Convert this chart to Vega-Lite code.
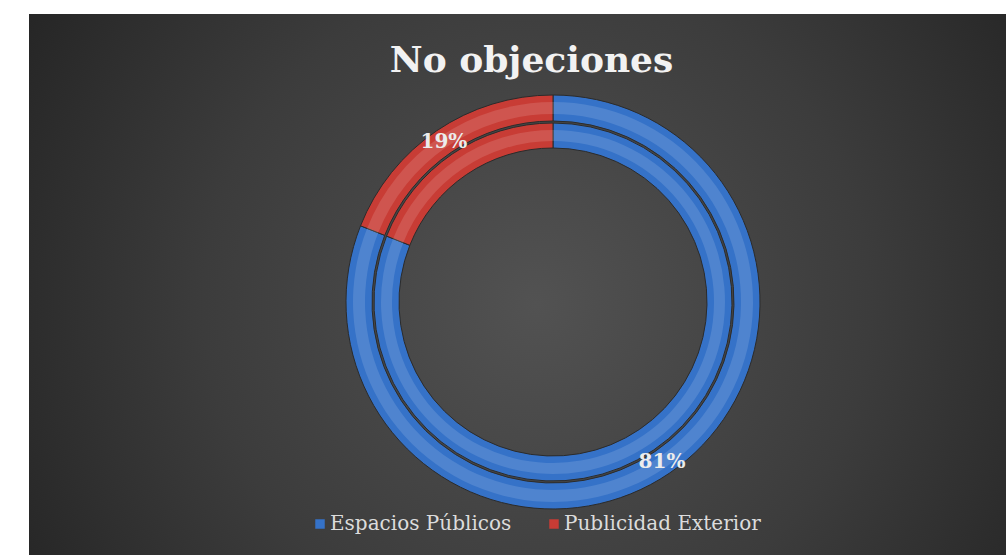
{
  "$schema": "https://vega.github.io/schema/vega-lite/v6.json",
  "autosize": {"type": "none"},
  "width": 977,
  "height": 541,
  "padding": {"left": 29, "top": 14, "right": 0, "bottom": 0},
  "background": "#ffffff",
  "view": {
    "stroke": null,
    "fill": {
      "gradient": "radial",
      "x1": 0.52, "y1": 0.52, "r1": 0,
      "x2": 0.52, "y2": 0.52, "r2": 0.62,
      "stops": [
        {"offset": 0, "color": "#525252"},
        {"offset": 0.55, "color": "#3c3c3c"},
        {"offset": 1, "color": "#242424"}
      ]
    }
  },
  "title": {
    "text": "No objeciones",
    "font": "DejaVu Serif",
    "fontSize": 36,
    "fontWeight": "bold",
    "color": "#f2f2f2",
    "anchor": "middle",
    "dx": 14,
    "dy": 70
  },
  "data": {
    "values": [
      {"categoria": "Espacios Públicos", "valor": 0.81},
      {"categoria": "Publicidad Exterior", "valor": 0.19}
    ]
  },
  "encoding": {
    "theta": {"field": "valor", "type": "quantitative", "stack": true},
    "order": {"field": "categoria", "sort": "ascending"}
  },
  "layer": [
    {
      "mark": {"type": "arc", "radius": 207, "radius2": 181, "stroke": "#2b2b2b", "strokeWidth": 1, "xOffset": 35.5, "yOffset": 17.5},
      "encoding": {
        "color": {
          "field": "categoria",
          "type": "nominal",
          "scale": {"domain": ["Espacios Públicos", "Publicidad Exterior"], "range": ["#3572c8", "#c83c35"]},
          "legend": {
            "title": null,
            "orient": "none",
            "direction": "horizontal",
            "legendX": 281,
            "legendY": 500,
            "symbolType": "square",
            "symbolSize": 90,
            "symbolStrokeWidth": 0,
            "labelFont": "DejaVu Serif",
            "labelFontSize": 20,
            "labelLimit": 400,
            "labelColor": "#dcdcdc",
            "columnPadding": 32,
            "labelOffset": 0
          }
        }
      }
    },
    {
      "mark": {"type": "arc", "radius": 200, "radius2": 188, "fill": "#ffffff", "fillOpacity": 0.13, "xOffset": 35.5, "yOffset": 17.5},
      "encoding": {"detail": {"field": "categoria"}}
    },
    {
      "mark": {"type": "arc", "radius": 179, "radius2": 154, "stroke": "#2b2b2b", "strokeWidth": 1, "xOffset": 35.5, "yOffset": 17.5},
      "encoding": {
        "color": {"field": "categoria", "type": "nominal"}
      }
    },
    {
      "mark": {"type": "arc", "radius": 172, "radius2": 161, "fill": "#ffffff", "fillOpacity": 0.13, "xOffset": 35.5, "yOffset": 17.5},
      "encoding": {"detail": {"field": "categoria"}}
    },
    {
      "mark": {"type": "text", "radius": 194, "font": "DejaVu Serif", "fontSize": 20, "fontWeight": "bold", "fill": "#ececec", "xOffset": 35.5, "yOffset": 17.5},
      "encoding": {
        "detail": {"field": "categoria"},
        "text": {"field": "valor", "type": "quantitative", "format": ".0%"}
      }
    }
  ]
}
